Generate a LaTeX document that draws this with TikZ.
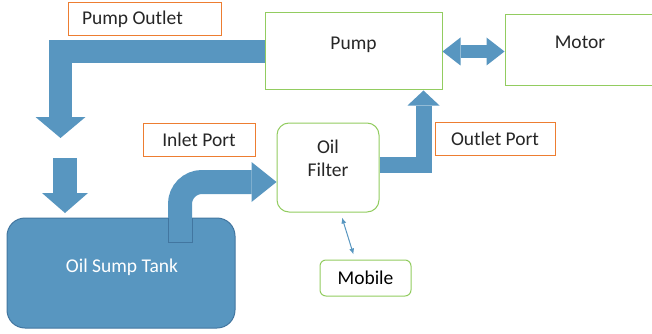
\documentclass[tikz,border=0pt]{standalone}
\usepackage{fontspec}
\setmainfont{Carlito}
\usetikzlibrary{arrows.meta,calc}

\definecolor{flowblue}{RGB}{88,150,192}
\definecolor{tankedge}{RGB}{66,118,160}
\definecolor{tagorange}{RGB}{237,125,49}
\definecolor{boxgreen}{RGB}{146,204,96}
\definecolor{inktext}{RGB}{38,38,38}

\tikzset{
	unit/.style={draw=boxgreen, line width=1pt, fill=white, inner sep=0pt},
	tag/.style={draw=tagorange, line width=1pt, fill=white, inner sep=0pt, text=inktext},
	caption/.style={inner sep=0pt, text=inktext, align=center},
	pipe/.style={draw=flowblue, line width=#1, line join=miter},
	pipe/.default=23pt}
\tikzset{every picture/.style={line width=0.75pt}}

\begin{document}
\begin{tikzpicture}[x=1pt,y=1pt,yscale=-1,xscale=1,font=\fontsize{19.5}{23}\selectfont]
	\path[use as bounding box, clip] (0,0) rectangle (652,334);

	%Shape: Rectangle
	\node[unit, minimum width=177, minimum height=77] (pump) at (353.5,51.5) {};
	%Shape: Rectangle
	\node[unit, minimum width=155, minimum height=71] (motor) at (582.5,50.5) {};
	%Shape: Rounded Rectangle
	\node[unit, rounded corners=12pt, minimum width=102, minimum height=89] (filter) at (328,167.5) {};
	%Shape: Rounded Rectangle
	\node[unit, rounded corners=6pt, minimum width=91, minimum height=36] (mobile) at (365.5,278) {Mobile};
	%Shape: Rounded Rectangle
	\node[draw=tankedge, fill=flowblue, line width=1pt, rounded corners=18pt, minimum width=228, minimum height=110, inner sep=0pt] (tank) at (121,273) {};

	%Shape: Rectangle
	\node[tag, minimum width=153, minimum height=33] (outlettag) at (144.5,19.5) {\makebox[125pt][l]{Pump Outlet}};
	%Shape: Rectangle
	\node[tag, minimum width=112, minimum height=33] (inlettag) at (199,139.5) {Inlet Port};
	%Shape: Rectangle
	\node[tag, minimum width=120, minimum height=33] (porttag) at (495,138.5) {Outlet Port};

	% Free ends of the arrows
	\coordinate (drop) at (60.5,138);
	\coordinate (feedtop) at (65,158);
	\coordinate (feedend) at (65,213);
	\coordinate (suction) at (180,242);

	%Block Arrows
	\draw[pipe, -{Triangle[width=50pt,length=21pt,line width=0pt]}] (pump.west) -| (drop);
	\draw[pipe=24pt, -{Triangle[width=46pt,length=20pt,line width=0pt]}] (feedtop) -- (feedend);
	\draw[pipe=24pt, rounded corners=22pt, -{Triangle[width=40pt,length=25pt,line width=0pt]}] (suction) |- ($(filter.west)+(0,14.5)$);
	\draw[draw=tankedge, line width=0.6pt] ($(suction)+(-12,0)$) -- ($(suction)+(12,0)$) -- ($(suction)+(12,-24)$) ($(suction)+(-12,0)$) -- ($(suction)+(-12,-24)$);
	\draw[pipe=16pt, -{Triangle[width=32pt,length=15pt,line width=0pt]}] ($(filter.east)+(0,-2.5)$) -| ($(pump.south)+(70,0)$);
	\draw[pipe=13pt, {Triangle[width=28pt,length=18pt,line width=0pt]}-{Triangle[width=28pt,length=18pt,line width=0pt]}] (pump.east) -- (pump.east -| motor.west);
	%Straight Lines
	\draw[draw=flowblue, line width=1pt, {Latex[length=6pt,width=5pt]}-{Latex[length=6pt,width=5pt]}] ($(filter.south)+(14,5)$) -- ($(mobile.north)+(-12,-5)$);

	% Text Node
	\node[caption] (pumplbl) at ($(pump.center)+(0,-6.5)$) {Pump};
	% Text Node
	\node[caption] (motorlbl) at (580,42) {Motor};
	% Text Node
	\node[caption] (filterlbl) at ($(filter.center)+(0,-9)$) {Oil\\Filter};
	% Text Node
	\node[caption, text=white] (tanklbl) at ($(tank.center)+(1,-6)$) {Oil Sump Tank};

\end{tikzpicture}
\end{document}
